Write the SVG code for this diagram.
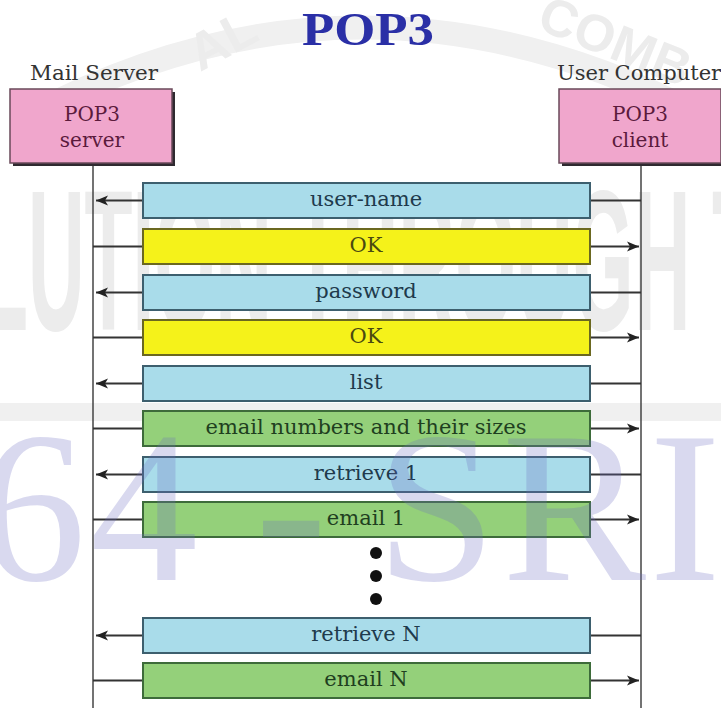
<svg xmlns="http://www.w3.org/2000/svg" width="721" height="708" viewBox="0 0 721 708">
<defs>
<style>
.wm-gray{font-family:"Liberation Sans",Arial,sans-serif;font-weight:bold;fill:#ececec}
.wm-lav{font-family:"Liberation Serif","Times New Roman",serif;font-size:216px;fill:#6b6bc0;fill-opacity:0.26}
.title{font-family:"Liberation Serif","Times New Roman",serif;font-weight:bold;font-size:46px;fill:#2a2fa6}
.lbl{font-family:"DejaVu Serif",serif;font-size:21px;fill:#333}
.boxtxt{font-family:"DejaVu Serif",serif;font-size:20px;fill:#5b1a3c;text-anchor:middle}
.box{fill:#f0a6cc;stroke:#6a4a5a;stroke-width:1.5}
.shadow{fill:#2f2a30}
.bar{stroke-width:2}
.blue{fill:#a9dcea;stroke:#3d5f6e}
.yellow{fill:#f5f21a;stroke:#6b6820}
.green{fill:#94d07a;stroke:#3d6b3a}
.t{font-family:"DejaVu Serif",serif;font-size:21px;text-anchor:middle}
.tb{fill:#203a4c}.ty{fill:#4a4a10}.tg{fill:#1f3f1f}
.life{stroke:#444;stroke-width:1.5;fill:none}
.msg{stroke:#333;stroke-width:2;fill:none}
</style>
<marker id="ah" markerWidth="14" markerHeight="12" refX="12" refY="6" orient="auto" markerUnits="userSpaceOnUse">
<path d="M0,1 L12,6 L0,11 L3,6 Z" fill="#222"/>
</marker>
</defs>
<rect width="721" height="708" fill="#ffffff"/>
<g id="watermark-back">
<path d="M30,115 Q360,-60 700,115" fill="none" stroke="#f0f0f0" stroke-width="24"/>
<text class="wm-gray" font-size="52" transform="translate(200,72) rotate(-28)">AL</text>
<text class="wm-gray" font-size="52" transform="translate(535,28) rotate(22)">COMB</text>
<text class="wm-gray" font-size="200" x="-20" y="330" textLength="780" lengthAdjust="spacingAndGlyphs">LUTION THROUGH T</text>
<rect x="0" y="403" width="721" height="18" fill="#f0f0f0"/>
</g>
<text class="title" x="302" y="45" textLength="132" lengthAdjust="spacingAndGlyphs">POP3</text>
<text class="lbl" x="30" y="80" textLength="128" lengthAdjust="spacingAndGlyphs">Mail Server</text>
<text class="lbl" x="557" y="80">User Computer</text>
<g id="connectors">
<line class="life" x1="93" y1="163" x2="93" y2="708"/>
<line class="life" x1="641" y1="163" x2="641" y2="708"/>
<g id="arrows">
<line class="msg" x1="641" y1="200.5" x2="590" y2="200.5"/><line class="msg" x1="143" y1="200.5" x2="96" y2="200.5" marker-end="url(#ah)"/>
<line class="msg" x1="93" y1="246.5" x2="143" y2="246.5"/><line class="msg" x1="590" y1="246.5" x2="639" y2="246.5" marker-end="url(#ah)"/>
<line class="msg" x1="641" y1="292.5" x2="590" y2="292.5"/><line class="msg" x1="143" y1="292.5" x2="96" y2="292.5" marker-end="url(#ah)"/>
<line class="msg" x1="93" y1="337.5" x2="143" y2="337.5"/><line class="msg" x1="590" y1="337.5" x2="639" y2="337.5" marker-end="url(#ah)"/>
<line class="msg" x1="641" y1="383.5" x2="590" y2="383.5"/><line class="msg" x1="143" y1="383.5" x2="96" y2="383.5" marker-end="url(#ah)"/>
<line class="msg" x1="93" y1="428.5" x2="143" y2="428.5"/><line class="msg" x1="590" y1="428.5" x2="639" y2="428.5" marker-end="url(#ah)"/>
<line class="msg" x1="641" y1="474.5" x2="590" y2="474.5"/><line class="msg" x1="143" y1="474.5" x2="96" y2="474.5" marker-end="url(#ah)"/>
<line class="msg" x1="93" y1="519.5" x2="143" y2="519.5"/><line class="msg" x1="590" y1="519.5" x2="639" y2="519.5" marker-end="url(#ah)"/>
<line class="msg" x1="641" y1="635.5" x2="590" y2="635.5"/><line class="msg" x1="143" y1="635.5" x2="96" y2="635.5" marker-end="url(#ah)"/>
<line class="msg" x1="93" y1="680.5" x2="143" y2="680.5"/><line class="msg" x1="590" y1="680.5" x2="639" y2="680.5" marker-end="url(#ah)"/>
</g>
</g>
<g id="pop3-server">
<rect class="shadow" x="13" y="92" width="162" height="74"/>
<rect class="box" x="10" y="89" width="162" height="74"/>
<text class="boxtxt" x="92" y="121">POP3</text>
<text class="boxtxt" x="92" y="147">server</text>
</g>
<g id="pop3-client">
<rect class="shadow" x="562" y="92" width="162" height="74"/>
<rect class="box" x="559" y="89" width="162" height="74"/>
<text class="boxtxt" x="640" y="121">POP3</text>
<text class="boxtxt" x="640" y="147">client</text>
</g>
<g id="msg-username"><rect class="bar blue" x="143" y="183" width="447" height="35"/><text class="t tb" x="366" y="206">user-name</text></g>
<g id="msg-ok1"><rect class="bar yellow" x="143" y="229" width="447" height="35"/><text class="t ty" x="366" y="252">OK</text></g>
<g id="msg-password"><rect class="bar blue" x="143" y="275" width="447" height="35"/><text class="t tb" x="366" y="298">password</text></g>
<g id="msg-ok2"><rect class="bar yellow" x="143" y="320" width="447" height="35"/><text class="t ty" x="366" y="343">OK</text></g>
<g id="msg-list"><rect class="bar blue" x="143" y="366" width="447" height="35"/><text class="t tb" x="366" y="389">list</text></g>
<g id="msg-sizes"><rect class="bar green" x="143" y="411" width="447" height="35"/><text class="t tg" x="366" y="434">email numbers and their sizes</text></g>
<g id="msg-retrieve1"><rect class="bar blue" x="143" y="457" width="447" height="35"/><text class="t tb" x="366" y="480">retrieve 1</text></g>
<g id="msg-email1"><rect class="bar green" x="143" y="502" width="447" height="35"/><text class="t tg" x="366" y="525">email 1</text></g>
<g id="ellipsis">
<circle cx="376" cy="553" r="6" fill="#111"/>
<circle cx="376" cy="576" r="6" fill="#111"/>
<circle cx="376" cy="599" r="6" fill="#111"/>
</g>
<g id="msg-retrieveN"><rect class="bar blue" x="143" y="618" width="447" height="35"/><text class="t tb" x="366" y="641">retrieve N</text></g>
<g id="msg-emailN"><rect class="bar green" x="143" y="663" width="447" height="35"/><text class="t tg" x="366" y="686">email N</text></g>
<g id="watermark-front">
<text class="wm-lav" y="580"><tspan x="-22">6</tspan><tspan x="90">4</tspan><tspan x="255">-</tspan><tspan x="376">S</tspan><tspan x="502">R</tspan><tspan x="649">I</tspan></text>
</g>
</svg>
